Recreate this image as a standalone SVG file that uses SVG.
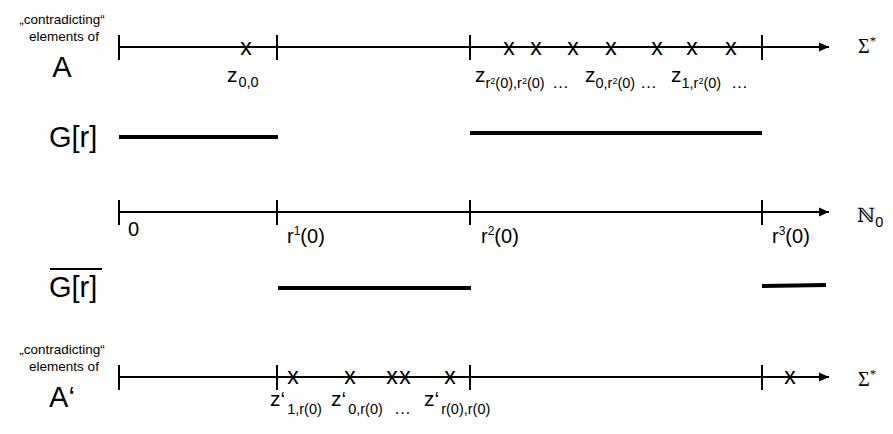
<svg xmlns="http://www.w3.org/2000/svg" width="893" height="434" viewBox="0 0 893 434">
<style>
.t{font-family:"Liberation Sans",Arial,sans-serif;fill:#000}
.small{font-size:13.5px}
.big{font-size:29px}
.lab{font-size:21px}
.sub{font-size:14.5px}
.tiny{font-size:9px}
.ax{font-size:20px}
.sup{font-size:12px}
.mk{font-size:23px;text-anchor:middle}
.dots{font-size:17px}
.ser{font-family:"Liberation Serif","DejaVu Serif",serif;font-size:20px}
.ax-line{stroke:#000;stroke-width:2;fill:none}
.tick{stroke:#000;stroke-width:2}
.bar{stroke:#000;stroke-width:4}
</style>
<defs>
<marker id="arr" markerUnits="userSpaceOnUse" markerWidth="11" markerHeight="10" refX="10" refY="5" orient="auto">
<path d="M0,0.5 L10,5 L0,9.5 Z" fill="#000"/>
</marker>
</defs>
<rect width="893" height="434" fill="#fff"/>

<g id="connectors">
<line class="ax-line" x1="119" y1="47" x2="829" y2="47" marker-end="url(#arr)"/>
<line class="ax-line" x1="119" y1="212" x2="829" y2="212" marker-end="url(#arr)"/>
<line class="ax-line" x1="119" y1="377" x2="829" y2="377" marker-end="url(#arr)"/>
</g>

<g id="ticks">
<line class="tick" x1="119" y1="35" x2="119" y2="60"/>
<line class="tick" x1="277" y1="35" x2="277" y2="60"/>
<line class="tick" x1="470" y1="35" x2="470" y2="60"/>
<line class="tick" x1="762" y1="35" x2="762" y2="60"/>
<line class="tick" x1="119" y1="200" x2="119" y2="225"/>
<line class="tick" x1="277" y1="200" x2="277" y2="225"/>
<line class="tick" x1="470" y1="200" x2="470" y2="225"/>
<line class="tick" x1="762" y1="200" x2="762" y2="225"/>
<line class="tick" x1="119" y1="365" x2="119" y2="390"/>
<line class="tick" x1="277" y1="365" x2="277" y2="390"/>
<line class="tick" x1="470" y1="365" x2="470" y2="390"/>
<line class="tick" x1="762" y1="365" x2="762" y2="390"/>
</g>

<g id="label-A">
<text class="t small" x="62" y="24" text-anchor="middle">„contradicting“</text>
<text class="t small" x="64" y="41" text-anchor="middle">elements of</text>
<text class="t big" x="62" y="77" text-anchor="middle">A</text>
</g>

<g id="label-A2">
<text class="t small" x="62" y="354" text-anchor="middle">„contradicting“</text>
<text class="t small" x="64" y="371" text-anchor="middle">elements of</text>
<text class="t big" x="62" y="407" text-anchor="middle">A‘</text>
</g>

<g id="label-G">
<text class="t big" x="49" y="147">G[r]</text>
</g>
<g id="label-Gbar">
<text class="t big" x="49" y="297">G[r]</text>
<line x1="50" y1="269" x2="102" y2="269" stroke="#000" stroke-width="2"/>
</g>

<g id="bars">
<line class="bar" x1="119" y1="137" x2="278" y2="137"/>
<line class="bar" x1="470" y1="133" x2="762" y2="133"/>
<line class="bar" x1="278" y1="288" x2="471" y2="288"/>
<line class="bar" x1="762" y1="286" x2="826" y2="285"/>
</g>

<g id="marks-top">
<text class="t mk" x="246" y="55">x</text>
<text class="t mk" x="509" y="55">x</text>
<text class="t mk" x="536" y="55">x</text>
<text class="t mk" x="573" y="55">x</text>
<text class="t mk" x="611" y="55">x</text>
<text class="t mk" x="657" y="55">x</text>
<text class="t mk" x="692" y="55">x</text>
<text class="t mk" x="731" y="55">x</text>
</g>

<g id="marks-bottom">
<text class="t mk" x="293" y="384">x</text>
<text class="t mk" x="350" y="384">x</text>
<text class="t mk" x="392" y="384">x</text>
<text class="t mk" x="405" y="384">x</text>
<text class="t mk" x="450" y="384">x</text>
<text class="t mk" x="790" y="384">x</text>
</g>

<g id="labels-top">
<text class="t lab" x="227" y="82">z<tspan class="sub" dx="1" dy="5">0,0</tspan></text>
<text class="t lab" x="475" y="82">z<tspan class="sub" dy="6">r</tspan><tspan class="tiny" dy="-4">2</tspan><tspan class="sub" dy="4">(0),r</tspan><tspan class="tiny" dy="-4">2</tspan><tspan class="sub" dy="4">(0)</tspan></text>
<text class="t dots" x="552" y="88">…</text>
<text class="t lab" x="585" y="82">z<tspan class="sub" dy="6">0,r</tspan><tspan class="tiny" dy="-4">2</tspan><tspan class="sub" dy="4">(0)</tspan></text>
<text class="t dots" x="640" y="88">…</text>
<text class="t lab" x="671" y="82">z<tspan class="sub" dy="6">1,r</tspan><tspan class="tiny" dy="-4">2</tspan><tspan class="sub" dy="4">(0)</tspan></text>
<text class="t dots" x="731" y="88">…</text>
</g>

<g id="labels-N">
<text class="t ax" x="128" y="236">0</text>
<text class="t ax" x="287" y="243">r<tspan class="sup" dy="-8">1</tspan><tspan dy="8">(0)</tspan></text>
<text class="t ax" x="481" y="243">r<tspan class="sup" dy="-8">2</tspan><tspan dy="8">(0)</tspan></text>
<text class="t ax" x="772" y="243">r<tspan class="sup" dy="-8">3</tspan><tspan dy="8">(0)</tspan></text>
</g>

<g id="labels-bottom">
<text class="t lab" x="270" y="406">z‘<tspan class="sub" dx="2" dy="8">1,r(0)</tspan></text>
<text class="t lab" x="331" y="406">z‘<tspan class="sub" dx="2" dy="8">0,r(0)</tspan></text>
<text class="t dots" x="394" y="414">…</text>
<text class="t lab" x="424" y="406">z‘<tspan class="sub" dx="2" dy="8">r(0),r(0)</tspan></text>
</g>

<g id="axis-names">
<text class="ser" x="858" y="53">Σ<tspan font-size="13" dy="-8">*</tspan></text>
<text class="ser" x="857" y="222" font-family="DejaVu Serif,serif" font-size="19">ℕ<tspan class="t sub" dy="5">0</tspan></text>
<text class="ser" x="858" y="386">Σ<tspan font-size="13" dy="-8">*</tspan></text>
</g>
</svg>
